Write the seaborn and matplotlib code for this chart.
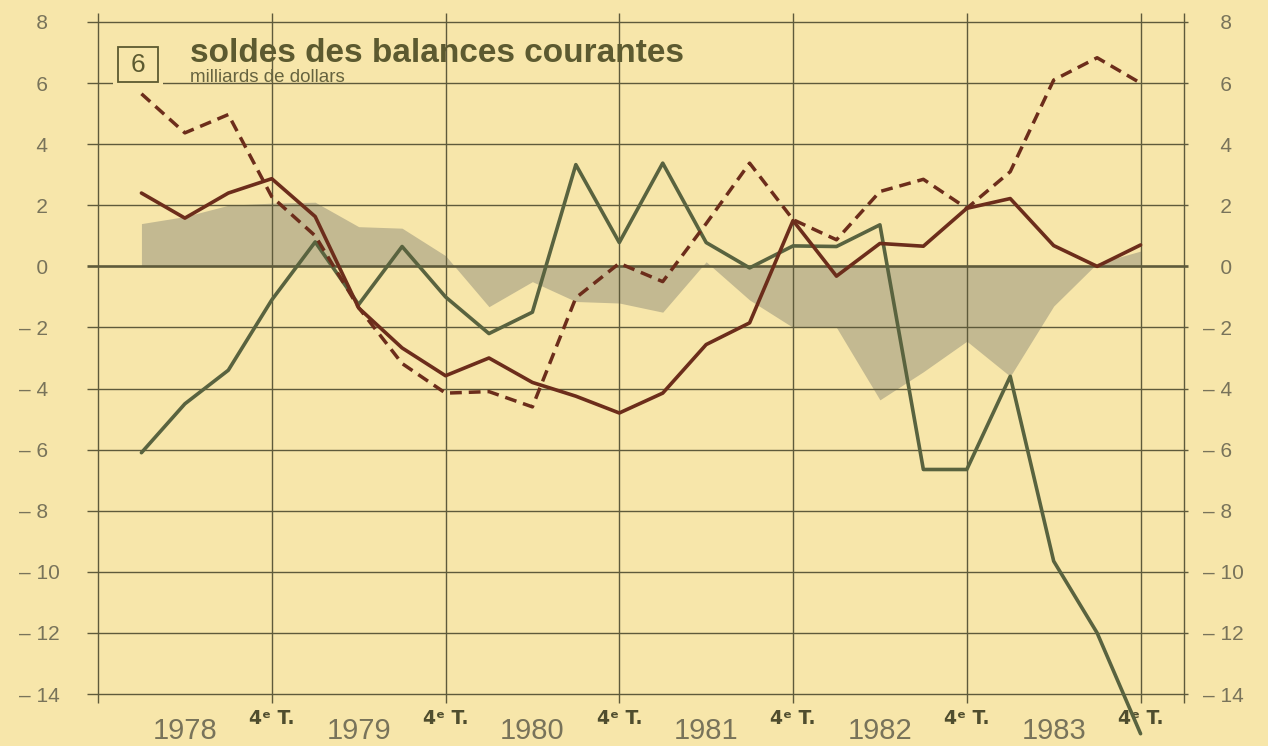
import numpy as np
import pandas as pd
import matplotlib
matplotlib.use("Agg")
import matplotlib.pyplot as plt
from matplotlib.patches import Rectangle
import seaborn as sns

# Quarters 1978 T1 .. 1983 T4 (position 0 = 4e T. 1977, left frame edge)
ANNEES = [1978, 1979, 1980, 1981, 1982, 1983]
TRIMESTRES = ["T1", "T2", "T3", "T4"]

# Values (milliards de dollars)
solde_vert = [-6.1, -4.5, -3.4, -1.1, 0.8, -1.25, 0.65, -1.0,
              -2.2, -1.5, 3.33, 0.78, 3.38, 0.78, -0.05, 0.67,
              0.65, 1.36, -6.65, -6.65, -3.6, -9.65, -12.0, -15.3]
solde_brun = [2.4, 1.58, 2.4, 2.87, 1.63, -1.36, -2.67, -3.58,
              -3.0, -3.8, -4.25, -4.8, -4.15, -2.56, -1.85, 1.5,
              -0.32, 0.75, 0.66, 1.9, 2.22, 0.68, 0.0, 0.7]
solde_tirets = [5.65, 4.37, 4.97, 2.28, 1.0, -1.35, -3.18, -4.15,
                -4.1, -4.6, -1.03, 0.1, -0.5, 1.4, 3.38, 1.53,
                0.87, 2.45, 2.85, 1.9, 3.1, 6.1, 6.83, 6.0]
zone_grise = [1.4, 1.63, 2.0, 2.07, 2.1, 1.3, 1.25, 0.35,
              -1.32, -0.5, -1.15, -1.2, -1.5, 0.15, -1.1, -2.0,
              -2.0, -4.37, -3.45, -2.45, -3.6, -1.3, 0.1, 0.5]

Y_TICKS = list(range(-14, 9, 2))

FOND = "#F7E6AA"
GRILLE = "#5E5A3B"
VERT = "#59633F"
BRUN = "#6C2D1B"
GRIS = "#C3B991"
TITRE = "#5C5A30"
CHIFFRES = "#78735A"


def etiquette(v):
    return f"\u2013 {abs(v)}" if v < 0 else f"\u2007 {v}"


def run_figure():
    sns.set_style("white")
    plt.rcParams["font.family"] = ["Liberation Sans", "DejaVu Sans"]

    periodes = [(a, t) for a in ANNEES for t in TRIMESTRES]
    df = pd.DataFrame({
        "annee": [p[0] for p in periodes],
        "trimestre": [p[1] for p in periodes],
        "pos": np.arange(1, len(periodes) + 1),
        "vert": solde_vert,
        "brun": solde_brun,
        "tirets": solde_tirets,
        "gris": zone_grise,
    })

    fig = plt.figure(figsize=(12.68, 7.46), dpi=100, facecolor=FOND)
    ax = fig.add_axes([98 / 1268, 52 / 746, 1086 / 1268, 672 / 746])
    ax.set_facecolor(FOND)
    ax.set_xlim(0, len(periodes) + 1)
    ax.set_ylim(-14, 8)
    for s in ax.spines.values():
        s.set_visible(False)

    # grey shaded balance
    ax.fill_between(df["pos"], 0, df["gris"], color=GRIS, lw=0, zorder=1)

    # grid: horizontal lines poke out of the frame, verticals at each 4e T.
    ylines = [y for y in Y_TICKS if y != 0]
    ax.hlines(ylines, -0.0101, 1.0037, transform=ax.get_yaxis_transform(),
              color=GRILLE, lw=1.0, zorder=2, clip_on=False)
    ax.hlines([0], -0.0101, 1.0037, transform=ax.get_yaxis_transform(),
              color=GRILLE, lw=1.9, zorder=2, clip_on=False)
    q4 = df.loc[df["trimestre"] == "T4", "pos"].tolist()
    xlines = [ax.get_xlim()[0]] + q4 + [ax.get_xlim()[1]]
    ax.vlines(xlines, -0.014, 1.013, transform=ax.get_xaxis_transform(),
              color=GRILLE, lw=1.0, zorder=2, clip_on=False)

    sns.lineplot(data=df, x="pos", y="vert", color=VERT, lw=2.6,
                 ax=ax, zorder=4, clip_on=False)
    sns.lineplot(data=df, x="pos", y="tirets", color=BRUN, lw=2.5,
                 linestyle=(0, (3.4, 2.0)), ax=ax, zorder=5)
    sns.lineplot(data=df, x="pos", y="brun", color=BRUN, lw=2.6,
                 ax=ax, zorder=5)
    ax.set_xlabel("")
    ax.set_ylabel("")

    # x axis: 4e T. labels on the long lines, years under quarter 2
    ax.set_xticks(q4, labels=["4\u1d49 T."] * len(q4))
    mineurs = df.loc[df["trimestre"] != "T4"]
    ax.set_xticks(mineurs["pos"].tolist(),
                  labels=[str(a) if t == "T2" else ""
                          for a, t in zip(mineurs["annee"], mineurs["trimestre"])],
                  minor=True)
    ax.tick_params(axis="x", which="major", length=0, pad=11,
                   labelsize=13.5, labelcolor="#4F4D2E")
    ax.tick_params(axis="x", which="minor", direction="inout", length=6,
                   width=1.0, color=GRILLE, pad=13.5, labelsize=21,
                   labelcolor=CHIFFRES)
    for lbl in ax.get_xticklabels():
        lbl.set_family(["Liberation Sans Narrow", "DejaVu Sans"])
        lbl.set_weight("bold")

    # y labels on both sides
    ax.set_yticks(Y_TICKS, labels=[etiquette(v) for v in Y_TICKS])
    ax.tick_params(axis="y", length=0, pad=57, labelsize=15,
                   labelcolor=CHIFFRES)
    for lbl in ax.get_yticklabels():
        lbl.set_ha("left")
    ax2 = ax.twinx()
    ax2.set_ylim(ax.get_ylim())
    ax2.set_yticks(Y_TICKS, labels=[etiquette(v) for v in Y_TICKS])
    ax2.tick_params(axis="y", length=0, pad=13.5, labelsize=15,
                    labelcolor=CHIFFRES)
    for s in ax2.spines.values():
        s.set_visible(False)

    # title block
    ax.add_patch(Rectangle((0.34, 5.85), 1.16, 0.3, facecolor=FOND,
                           edgecolor="none", zorder=3))
    ax.add_patch(Rectangle((0.46, 6.04), 0.92, 1.15, fill=False,
                           edgecolor=TITRE, lw=1.3, zorder=4))
    ax.text(0.92, 6.6, "6", ha="center", va="center", fontsize=19,
            color=TITRE, zorder=5)
    ax.text(2.12, 6.68, "soldes des balances courantes", ha="left",
            va="baseline", fontsize=24, fontweight="bold", color=TITRE,
            zorder=5)
    ax.text(2.12, 6.05, "milliards de dollars", ha="left", va="baseline",
            fontsize=13.5, color="#66633F", zorder=5)

    fig.savefig("out.png", dpi=100, facecolor=FOND)


if __name__ == "__main__":
    run_figure()
